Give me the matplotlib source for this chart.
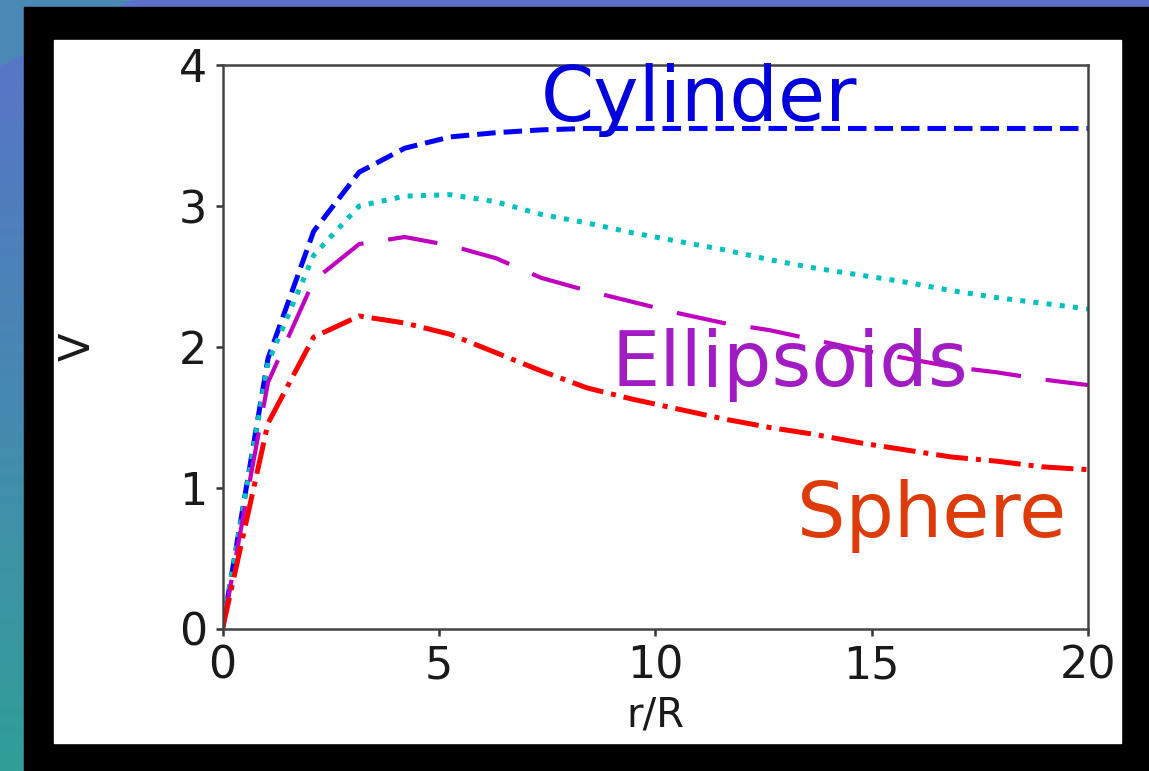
import numpy as np
import matplotlib
matplotlib.use("Agg")
import matplotlib.pyplot as plt
from matplotlib.patches import Rectangle

# sample positions r/R and potential curves
r_over_R = np.linspace(0, 20, 20)
V_cylinder = [0, 1.92, 2.82, 3.24, 3.41, 3.49, 3.52, 3.54, 3.55, 3.55,
              3.55, 3.55, 3.55, 3.55, 3.55, 3.55, 3.55, 3.55, 3.55, 3.55]
V_ellipsoid_a = [0, 1.89, 2.65, 3.00, 3.07, 3.08, 3.03, 2.94, 2.88, 2.81,
                 2.75, 2.69, 2.62, 2.56, 2.51, 2.46, 2.40, 2.35, 2.31, 2.27]
V_ellipsoid_b = [0, 1.75, 2.47, 2.73, 2.78, 2.72, 2.63, 2.49, 2.40, 2.32,
                 2.24, 2.17, 2.12, 2.05, 1.98, 1.92, 1.86, 1.82, 1.77, 1.73]
V_sphere = [0, 1.46, 2.07, 2.22, 2.17, 2.09, 1.96, 1.83, 1.71, 1.63,
            1.56, 1.49, 1.43, 1.38, 1.32, 1.27, 1.22, 1.19, 1.15, 1.13]

labels = ["Cylinder", "Ellipsoids", "Sphere"]
label_xy = [(7.35, 3.60), (9.0, 1.72), (13.27, 0.65)]
label_colors = ["#0000dd", "#a21cc4", "#dd3c0a"]

W, H = 1149, 771
fig = plt.figure(figsize=(W / 100, H / 100), dpi=100)

# backdrop: blue/violet to teal gradient behind a black frame
bg = fig.add_axes([0, 0, 1, 1])
yy, xx = np.mgrid[0:1:400j, 0:1:600j]
top = np.array([0.36, 0.45, 0.80])
bottom = np.array([0.19, 0.62, 0.59])
corner = np.array([0.29, 0.53, 0.71])
grad = top[None, None, :] * (1 - yy[..., None]) + bottom[None, None, :] * yy[..., None]
grad[(xx / 0.113 + yy / 0.084) < 1] = corner
bg.imshow(grad, aspect="auto", extent=[0, 1, 0, 1], origin="upper")
bg.add_patch(Rectangle((24 / W, 0), 1, 1 - 7 / H, transform=bg.transAxes,
                       color="black"))
bg.add_patch(Rectangle((54 / W, 1 - 743 / H), (1121 - 54) / W, (743 - 40) / H,
                       transform=bg.transAxes, color="white"))
bg.set_xlim(0, 1)
bg.set_ylim(0, 1)
bg.axis("off")

ax = fig.add_axes([222.5 / W, 1 - 629 / H, (1088 - 222.5) / W, (629 - 65) / H])
ax.plot(r_over_R, V_cylinder, color="b", ls="--", lw=3.6)
ax.plot(r_over_R, V_ellipsoid_a, color="c", ls=":", lw=3.6)
ax.plot(r_over_R, V_ellipsoid_b, color="m", lw=3.0, dashes=(12, 6))
ax.plot(r_over_R, V_sphere, color="r", ls="-.", lw=3.6)

for text, (x, y), c in zip(labels, label_xy, label_colors):
    ax.text(x, y, text, color=c, fontsize=55, ha="left", va="baseline")

ax.set_xlim(0, 20)
ax.set_ylim(0, 4)
ax.set_xticks([0, 5, 10, 15, 20])
ax.set_yticks([0, 1, 2, 3, 4])
ax.tick_params(labelsize=32, length=5, width=1.8, color="#333333",
               labelcolor="#1a1a1a", pad=6)
for s in ax.spines.values():
    s.set_linewidth(1.8)
    s.set_color("#444444")
ax.set_xlabel("r/R", fontsize=29, color="#1a1a1a", labelpad=6)
ax.set_ylabel("V", fontsize=30, color="#1a1a1a", labelpad=58)

fig.savefig("out.png", dpi=100)
